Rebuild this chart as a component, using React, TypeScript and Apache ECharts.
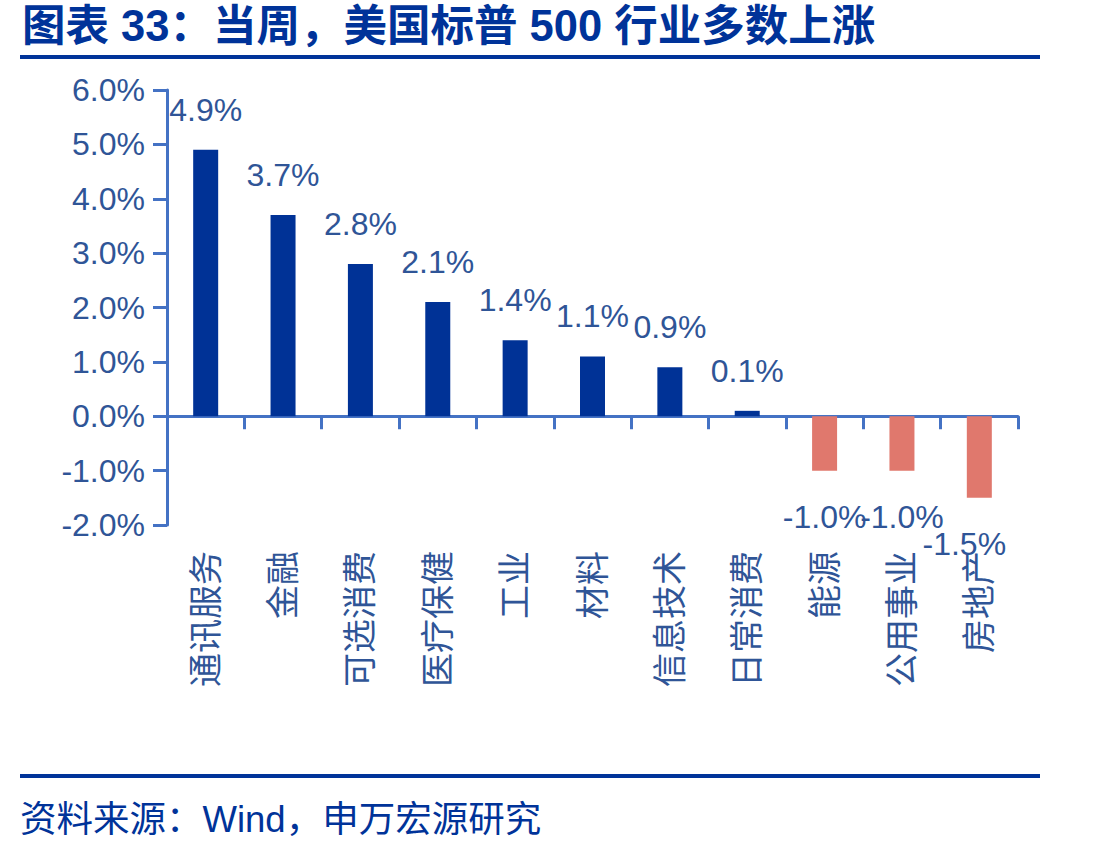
import React, { useEffect, useRef } from "react";
import * as echarts from "echarts";

// Weekly sector returns, S&P 500 (%)
const categories = ["通讯服务", "金融", "可选消费", "医疗保健", "工业", "材料", "信息技术", "日常消费", "能源", "公用事业", "房地产"];
const returns = [4.9, 3.7, 2.8, 2.1, 1.4, 1.1, 0.9, 0.1, -1.0, -1.0, -1.5];
const yTicks = { min: -2, max: 6, interval: 1 };

const titleText = "图表 33：当周，美国标普 500 行业多数上涨";
const sourceText = "资料来源：Wind，申万宏源研究";

const FONT = "'Liberation Sans', Arial, 'Noto Sans CJK SC', sans-serif";
const NAVY = "#003399";
const LABEL = "#2F5597";
const AXIS = "#4472C4";
const UP = "#003296";
const DOWN = "#E0786D";

export default function App() {
  const ref = useRef<HTMLDivElement>(null);

  useEffect(() => {
    if (!ref.current) return;
    const chart = echarts.init(ref.current, undefined, { renderer: "svg" });

    const barData = returns.map((v, i) => {
      const item: any = {
        value: v,
        itemStyle: { color: v >= 0 ? UP : DOWN },
        label: {
          position: v >= 0 ? "top" : "bottom",
          distance: v >= 0 ? 24 : 30,
        },
      };
      // keep the last label inside the plot's right edge
      if (i === returns.length - 1) item.label.offset = [-15, 0];
      return item;
    });

    chart.setOption({
      animation: false,
      textStyle: { fontFamily: FONT },
      grid: { left: 167, top: 90, width: 851, height: 435, containLabel: false },
      xAxis: [
        {
          type: "category",
          data: categories,
          position: "bottom",
          axisLine: { onZero: true, lineStyle: { color: AXIS, width: 3 } },
          axisTick: { show: true, length: 13, lineStyle: { color: AXIS, width: 3 } },
          axisLabel: { show: false },
        },
        {
          type: "category",
          data: categories,
          position: "bottom",
          axisLine: { show: false, onZero: false },
          axisTick: { show: false },
          axisLabel: {
            rotate: 90,
            margin: 26,
            color: LABEL,
            fontSize: 34,
            fontFamily: FONT,
            interval: 0,
          },
        },
      ],
      yAxis: {
        type: "value",
        min: yTicks.min,
        max: yTicks.max,
        interval: yTicks.interval,
        splitLine: { show: false },
        axisLine: { show: true, lineStyle: { color: AXIS, width: 3 } },
        axisTick: { show: true, length: 14, lineStyle: { color: AXIS, width: 3 } },
        axisLabel: {
          margin: 22,
          color: LABEL,
          fontSize: 32,
          fontFamily: FONT,
          formatter: (v: number) => v.toFixed(1) + "%",
        },
      },
      series: [
        {
          type: "bar",
          xAxisIndex: 0,
          data: barData,
          barWidth: 25,
          label: {
            show: true,
            color: LABEL,
            fontSize: 32,
            fontFamily: FONT,
            formatter: (p: any) => Number(p.value).toFixed(1) + "%",
          },
        },
      ],
      graphic: [
        {
          type: "text",
          left: 22,
          top: 4,
          style: {
            text: titleText,
            fill: NAVY,
            font: `bold 43.5px ${FONT}`,
          },
        },
        { type: "rect", shape: { x: 20, y: 55, width: 1020, height: 4 }, style: { fill: NAVY } },
        { type: "rect", shape: { x: 20, y: 774, width: 1020, height: 4 }, style: { fill: NAVY } },
        {
          type: "text",
          left: 20,
          top: 801,
          style: {
            text: sourceText,
            fill: NAVY,
            font: `36.5px ${FONT}`,
          },
        },
      ],
    });

    return () => chart.dispose();
  }, []);

  return (
    <div
      ref={ref}
      style={{ position: "fixed", left: 0, top: 0, width: 1100, height: 852, background: "#fff" }}
    />
  );
}
